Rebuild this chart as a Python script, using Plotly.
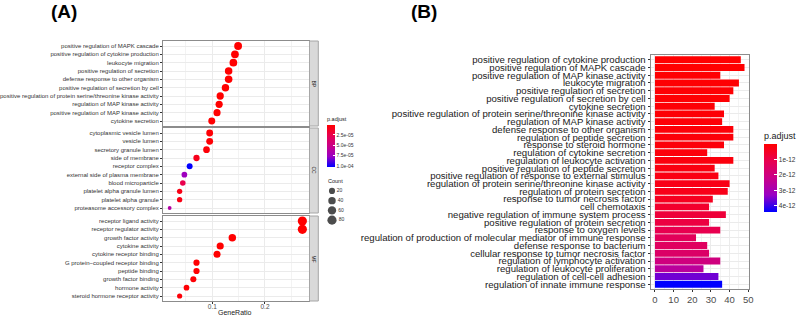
import math
import plotly.graph_objects as go

W, H = 800, 316
FONT = "Liberation Sans, Arial, sans-serif"

# ---------------- Panel A data (dot plot, GO enrichment) ----------------
bp_terms = [
    "positive regulation of MAPK cascade",
    "positive regulation of cytokine production",
    "leukocyte migration",
    "positive regulation of secretion",
    "defense response to other organism",
    "positive regulation of secretion by cell",
    "positive regulation of protein serine/threonine kinase activity",
    "regulation of MAP kinase activity",
    "positive regulation of MAP kinase activity",
    "cytokine secretion",
]
bp_ratio = [0.149, 0.143, 0.140, 0.131, 0.131, 0.125, 0.115, 0.113, 0.109, 0.099]
bp_count = [48, 46, 45, 42, 42, 40, 37, 36, 35, 32]
bp_padj = [2e-9, 1e-9, 5e-9, 3e-7, 2e-7, 6e-7, 1e-6, 8e-7, 1.4e-6, 2e-6]

cc_terms = [
    "cytoplasmic vesicle lumen",
    "vesicle lumen",
    "secretory granule lumen",
    "side of membrane",
    "receptor complex",
    "external side of plasma membrane",
    "blood microparticle",
    "platelet alpha granule lumen",
    "platelet alpha granule",
    "proteasome accessory complex",
]
cc_ratio = [0.095, 0.095, 0.089, 0.070, 0.057, 0.047, 0.044, 0.038, 0.038, 0.019]
cc_count = [30, 30, 28, 22, 18, 15, 14, 12, 12, 6]
cc_padj = [3e-6, 3e-6, 4e-6, 1.0e-5, 1.02e-4, 7.5e-5, 2.6e-5, 8e-6, 8e-6, 6.4e-5]

mf_terms = [
    "receptor ligand activity",
    "receptor regulator activity",
    "growth factor activity",
    "cytokine activity",
    "cytokine receptor binding",
    "G protein\u2212coupled receptor binding",
    "peptide binding",
    "growth factor binding",
    "hormone activity",
    "steroid hormone receptor activity",
]
mf_ratio = [0.271, 0.271, 0.138, 0.115, 0.109, 0.070, 0.070, 0.064, 0.051, 0.038]
mf_count = [81, 81, 41, 35, 33, 21, 21, 19, 15, 11]
mf_padj = [1e-20, 1e-19, 1e-8, 2e-9, 5e-9, 2e-6, 2e-6, 3e-6, 3e-6, 4e-6]

facet_names = ["BP", "CC", "MF"]
count_legend = [20, 40, 60, 80]
count_legend_labels = ["20", "40", "60", "80"]
padjA_ticks = [2.5e-5, 5.0e-5, 7.5e-5, 1.0e-4]
padjA_ticktext = ["2.5e-05", "5.0e-05", "7.5e-05", "1.0e-04"]
padjA_range = [1.5e-6, 1.023e-4]

# ---------------- Panel B data (bar plot) ----------------
b_terms = [
    "positive regulation of cytokine production",
    "positive regulation of MAPK cascade",
    "positive regulation of MAP kinase activity",
    "leukocyte migration",
    "positive regulation of secretion",
    "positive regulation of secretion by cell",
    "cytokine secretion",
    "positive regulation of protein serine/threonine kinase activity",
    "regulation of MAP kinase activity",
    "defense response to other organism",
    "regulation of peptide secretion",
    "response to steroid hormone",
    "regulation of cytokine secretion",
    "regulation of leukocyte activation",
    "positive regulation of peptide secretion",
    "positive regulation of response to external stimulus",
    "regulation of protein serine/threonine kinase activity",
    "regulation of protein secretion",
    "response to tumor necrosis factor",
    "cell chemotaxis",
    "negative regulation of immune system process",
    "positive regulation of protein secretion",
    "response to oxygen levels",
    "regulation of production of molecular mediator of immune response",
    "defense response to bacterium",
    "cellular response to tumor necrosis factor",
    "regulation of lymphocyte activation",
    "regulation of leukocyte proliferation",
    "regulation of cell-cell adhesion",
    "regulation of innate immune response",
]
b_count = [46, 48, 35, 45, 42, 40, 32, 37, 36, 42, 42, 37, 28, 42, 32,
           34, 40, 39, 31, 29, 38, 29, 35, 22, 28, 29, 35, 26, 34, 36]
b_padj = [0.01e-12, 0.02e-12, 0.03e-12, 0.04e-12, 0.05e-12, 0.06e-12, 0.08e-12,
          0.09e-12, 0.10e-12, 0.11e-12, 0.12e-12, 0.14e-12, 0.16e-12, 0.18e-12,
          0.22e-12, 0.26e-12, 0.30e-12, 0.35e-12, 0.45e-12, 0.62e-12, 0.80e-12,
          0.90e-12, 1.10e-12, 1.30e-12, 1.40e-12, 1.55e-12, 2.00e-12, 2.55e-12,
          3.60e-12, 4.40e-12]
padjB_ticks = [1e-12, 2e-12, 3e-12, 4e-12]
padjB_ticktext = ["1e-12", "2e-12", "3e-12", "4e-12"]
padjB_range = [0.0, 4.4e-12]

# ---------------- helpers ----------------
def px_x(x):
    return x / W

def px_y(y):
    return 1 - y / H

# red -> blue gradient (Lab-like), used on negated p.adjust so red sits on top
neg_scale = [[0.0, "#0000FF"], [0.25, "#9A00C3"], [0.5, "#C90088"],
             [0.75, "#E8004F"], [1.0, "#FF0000"]]

all_counts = bp_count + cc_count + mf_count
cmin_c, cmax_c = min(all_counts), max(all_counts)

def dot_size(c):
    t = (c - cmin_c) / (cmax_c - cmin_c)
    t = max(0.0, min(1.0, t))
    return 3.8 + 5.4 * math.sqrt(t)

fig = go.Figure()

GRID = "#EBEBEB"
MINOR = "#F3F3F3"
BORDER = "#8C8C8C"

A_x0, A_x1 = 163, 309
facet_px = [(41, 126), (128, 213), (216, 301)]
facets = [
    (bp_terms, bp_ratio, bp_count, bp_padj),
    (cc_terms, cc_ratio, cc_count, cc_padj),
    (mf_terms, mf_ratio, mf_count, mf_padj),
]

layout_axes = {}
for i, (terms, ratio, count, padj) in enumerate(facets):
    n = i + 1
    xname = "x" if n == 1 else f"x{n}"
    yname = "y" if n == 1 else f"y{n}"
    fig.add_trace(go.Scatter(
        x=ratio, y=terms, mode="markers",
        xaxis=xname, yaxis=yname,
        marker=dict(size=[dot_size(c) for c in count],
                    color=[-p for p in padj], coloraxis="coloraxis",
                    line=dict(width=0), opacity=1),
        showlegend=False, hoverinfo="x+y",
    ))
    xkey = "xaxis" if n == 1 else f"xaxis{n}"
    ykey = "yaxis" if n == 1 else f"yaxis{n}"
    bottom = (n == 3)
    layout_axes[xkey] = dict(
        domain=[px_x(A_x0), px_x(A_x1)], anchor=yname,
        range=[0.0064, 0.2836], tickmode="array", tickvals=[0.1, 0.2],
        ticktext=["0.1", "0.2"], showticklabels=bottom,
        ticks="outside" if bottom else "", ticklen=2, tickcolor="#333333",
        tickfont=dict(size=6.5, color="#4D4D4D", family=FONT),
        ticklabelstandoff=-3 if bottom else 0,
        showgrid=True, gridcolor=GRID, gridwidth=1,
        minor=dict(tickmode="array", tickvals=[0.05, 0.15, 0.25],
                   showgrid=True, gridcolor=MINOR, gridwidth=1, ticks=""),
        showline=True, mirror=True, linecolor=BORDER, linewidth=1,
        zeroline=False, automargin=False, fixedrange=True,
    )
    y0p, y1p = facet_px[i]
    layout_axes[ykey] = dict(
        domain=[px_y(y1p), px_y(y0p)], anchor=xname,
        type="category", categoryorder="array",
        categoryarray=list(reversed(terms)), range=[-0.6, len(terms) - 0.4],
        tickmode="array", tickvals=terms, ticktext=terms,
        tickfont=dict(size=6, color="#333333", family=FONT),
        ticks="outside", ticklen=2, tickcolor="#333333",
        showgrid=True, gridcolor=GRID, gridwidth=1,
        showline=True, mirror=True, linecolor=BORDER, linewidth=1,
        zeroline=False, automargin=False, fixedrange=True,
    )

# Count size legend
fig.add_trace(go.Scatter(
    x=[0] * len(count_legend), y=count_legend_labels, mode="markers+text",
    xaxis="x5", yaxis="y5",
    marker=dict(size=[dot_size(c) for c in count_legend], color="black",
                line=dict(width=0)),
    text=count_legend_labels, textposition="middle right",
    textfont=dict(size=5, color="#333333", family=FONT),
    showlegend=False, hoverinfo="skip",
))
layout_axes["xaxis5"] = dict(domain=[px_x(327), px_x(357)], anchor="y5",
                             range=[-0.5, 2.5], visible=False, fixedrange=True)
layout_axes["yaxis5"] = dict(domain=[px_y(225), px_y(186)], anchor="x5",
                             type="category", categoryorder="array",
                             categoryarray=list(reversed(count_legend_labels)),
                             range=[-0.5, len(count_legend) - 0.5],
                             visible=False, fixedrange=True)

# ---------------- Panel B bars ----------------
fig.add_trace(go.Bar(
    x=b_count, y=b_terms, orientation="h", xaxis="x4", yaxis="y4",
    width=0.9,
    marker=dict(color=[-p for p in b_padj], coloraxis="coloraxis2",
                line=dict(width=0)),
    showlegend=False, hoverinfo="x+y",
))
layout_axes["xaxis4"] = dict(
    domain=[px_x(650.5), px_x(749)], anchor="y4", range=[-2.4, 50.4],
    tickmode="linear", tick0=0, dtick=10,
    ticks="outside", ticklen=2, tickcolor="#333333",
    tickfont=dict(size=9.5, color="#4D4D4D", family=FONT),
    showgrid=True, gridcolor=GRID, gridwidth=1,
    minor=dict(tickmode="linear", tick0=5, dtick=10, showgrid=True,
               gridcolor=MINOR, gridwidth=1, ticks=""),
    showline=True, mirror=True, linecolor=BORDER, linewidth=1,
    zeroline=False, automargin=False, fixedrange=True,
)
layout_axes["yaxis4"] = dict(
    domain=[px_y(289), px_y(55)], anchor="x4", type="category",
    categoryorder="array", categoryarray=list(reversed(b_terms)),
    range=[-0.6, len(b_terms) - 0.4],
    tickmode="array", tickvals=b_terms, ticktext=b_terms,
    tickfont=dict(size=9.6, color="#1A1A1A", family=FONT),
    ticks="outside", ticklen=2, tickcolor="#333333",
    showgrid=True, gridcolor=GRID, gridwidth=1,
    showline=True, mirror=True, linecolor=BORDER, linewidth=1,
    zeroline=False, automargin=False, fixedrange=True,
)

# ---------------- strips, labels ----------------
shapes = []
annotations = []
for i, name in enumerate(facet_names):
    y0p, y1p = facet_px[i]
    shapes.append(dict(type="rect", xref="paper", yref="paper",
                       x0=px_x(309.5), x1=px_x(318.3),
                       y0=px_y(y1p), y1=px_y(y0p),
                       fillcolor="#D9D9D9", line=dict(color="#A6A6A6", width=1),
                       layer="above"))
    annotations.append(dict(text=name, xref="paper", yref="paper",
                            x=px_x(314), y=px_y((y0p + y1p) / 2),
                            xanchor="center", yanchor="middle",
                            showarrow=False, textangle=90,
                            font=dict(size=5, color="#1A1A1A", family=FONT)))

annotations += [
    dict(text="<b>(A)</b>", xref="paper", yref="paper", x=px_x(64), y=px_y(12),
         xanchor="center", yanchor="middle",
         showarrow=False, font=dict(size=19, color="black", family=FONT)),
    dict(text="<b>(B)</b>", xref="paper", yref="paper", x=px_x(424), y=px_y(12),
         xanchor="center", yanchor="middle",
         showarrow=False, font=dict(size=19, color="black", family=FONT)),
    dict(text="GeneRatio", xref="paper", yref="paper", x=px_x(235), y=px_y(312),
         xanchor="center", yanchor="middle",
         showarrow=False, font=dict(size=7, color="#1A1A1A", family=FONT)),
    dict(text="Count", xref="paper", yref="paper", x=px_x(326), y=px_y(181),
         xanchor="left", yanchor="middle", showarrow=False,
         font=dict(size=5.5, color="#1A1A1A", family=FONT)),
]

fig.update_layout(
    width=W, height=H, margin=dict(l=0, r=0, t=0, b=0),
    paper_bgcolor="white", plot_bgcolor="white",
    font=dict(family=FONT),
    shapes=shapes, annotations=annotations,
    bargap=0.1,
    coloraxis=dict(
        colorscale=neg_scale, cmin=-padjA_range[1], cmax=-padjA_range[0],
        colorbar=dict(
            title=dict(text="p.adjust", side="top",
                       font=dict(size=5.5, color="#1A1A1A", family=FONT)),
            x=px_x(327), xanchor="left", y=px_y(114), yanchor="top",
            len=53, lenmode="pixels", thickness=8, thicknessmode="pixels",
            xpad=0, ypad=0, outlinewidth=0,
            tickmode="array", tickvals=[-v for v in padjA_ticks],
            ticktext=padjA_ticktext, ticks="inside", ticklen=2,
            tickcolor="white",
            tickfont=dict(size=5, color="#333333", family=FONT),
        ),
    ),
    coloraxis2=dict(
        colorscale=neg_scale, cmin=-padjB_range[1], cmax=-padjB_range[0],
        colorbar=dict(
            title=dict(text="p.adjust", side="top",
                       font=dict(size=9, color="#1A1A1A", family=FONT)),
            x=px_x(764), xanchor="left", y=px_y(129), yanchor="top",
            len=83, lenmode="pixels", thickness=13, thicknessmode="pixels",
            xpad=0, ypad=0, outlinewidth=0,
            tickmode="array", tickvals=[-v for v in padjB_ticks],
            ticktext=padjB_ticktext, ticks="inside", ticklen=3,
            tickcolor="white",
            tickfont=dict(size=6.5, color="#333333", family=FONT),
        ),
    ),
    **layout_axes,
)

fig.write_html("out.html",
               config={"displayModeBar": False},
               post_script="document.body.style.margin='0';"
                           "document.body.style.overflow='hidden';")
